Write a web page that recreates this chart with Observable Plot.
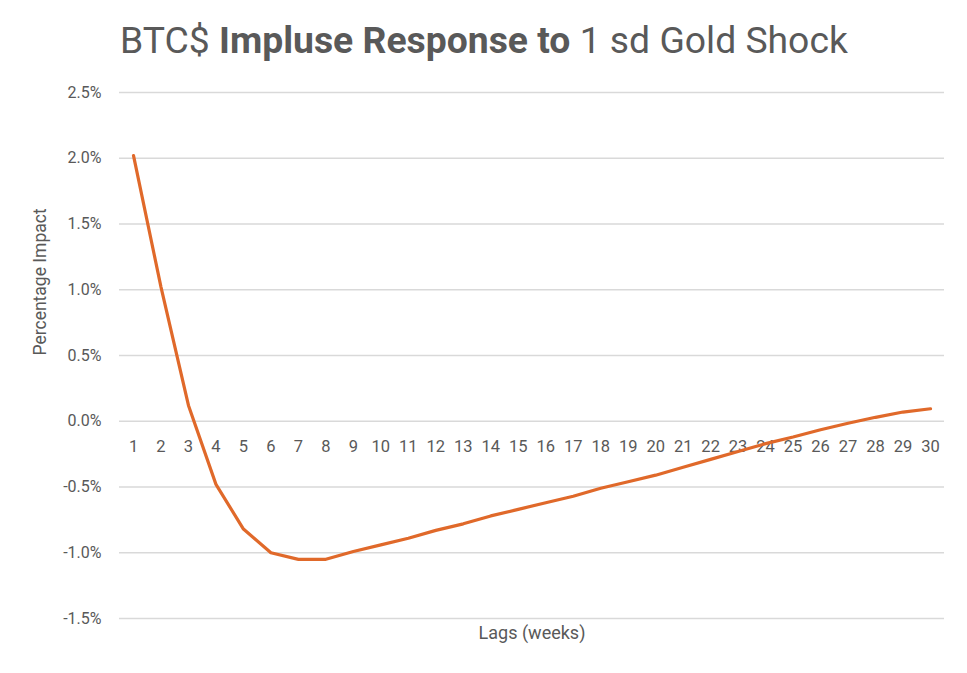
<!DOCTYPE html>
<html>
<head>
<meta charset="utf-8">
<script src="https://cdn.jsdelivr.net/npm/d3@7"></script>
<script src="https://cdn.jsdelivr.net/npm/@observablehq/plot@0.6"></script>
<style>
  html, body { margin: 0; padding: 0; background: #fff; }
  #wrap { width: 967px; height: 673px; position: relative; overflow: hidden; }
  #title { position: absolute; left: 120px; top: 18px; font-family: Roboto, "Open Sans", sans-serif; font-size: 37.3px; color: #595959; white-space: nowrap; line-height: normal; }
  #title b { font-weight: 700; }
  #chart { position: absolute; left: 0; top: 80px; }
</style>
</head>
<body>
<div id="wrap">
  <div id="title">BTC$ <b>Impluse Response to</b> 1 sd Gold Shock</div>
  <div id="chart"></div>
</div>
<script>
const lags = d3.range(1, 31);
const impact = [2.02, 1.02, 0.12, -0.48, -0.82, -1.00, -1.05, -1.05, -0.99, -0.94,
                -0.89, -0.83, -0.78, -0.72, -0.67, -0.62, -0.57, -0.51, -0.46, -0.41,
                -0.35, -0.29, -0.23, -0.17, -0.12, -0.065, -0.015, 0.03, 0.07, 0.095];
const yTicks = [-1.5, -1.0, -0.5, 0.0, 0.5, 1.0, 1.5, 2.0, 2.5];
const xLabel = "Lags (weeks)";
const yLabel = "Percentage Impact";

const data = lags.map((lag, i) => ({lag, value: impact[i]}));

const fontFam = "Roboto, 'Open Sans', sans-serif";
const chart = Plot.plot({
  width: 967,
  height: 593,
  marginTop: 12,
  marginBottom: 55,
  marginLeft: 119,
  marginRight: 23,
  style: {fontFamily: fontFam, fontSize: "15px", color: "#595959", background: "#fff"},
  x: {type: "linear", domain: [0.49, 30.51], axis: null},
  y: {domain: [-1.5, 2.5], axis: null},
  marks: [
    Plot.gridY(yTicks, {stroke: "#d9d9d9", strokeOpacity: 1, strokeWidth: 1.6}),
    Plot.axisY(yTicks, {tickSize: 0, tickPadding: 18, tickFormat: d => d.toFixed(1) + "%", label: null, fill: "#595959", fontSize: 16}),
    Plot.text(lags, {x: d => d, y: () => 0, dy: 25, text: d => String(d), fill: "#595959", fontSize: 16.5}),
    Plot.line(data, {x: "lag", y: "value", stroke: "#E0692A", strokeWidth: 3.2, strokeLinejoin: "round", strokeLinecap: "round"}),
    Plot.text([xLabel], {frameAnchor: "bottom", dy: 20, text: d => d, fill: "#595959", fontSize: 18}),
    Plot.text([yLabel], {frameAnchor: "left", dx: -79, rotate: -90, text: d => d, fill: "#595959", fontSize: 17.5})
  ]
});
document.getElementById("chart").appendChild(chart);
</script>
</body>
</html>
